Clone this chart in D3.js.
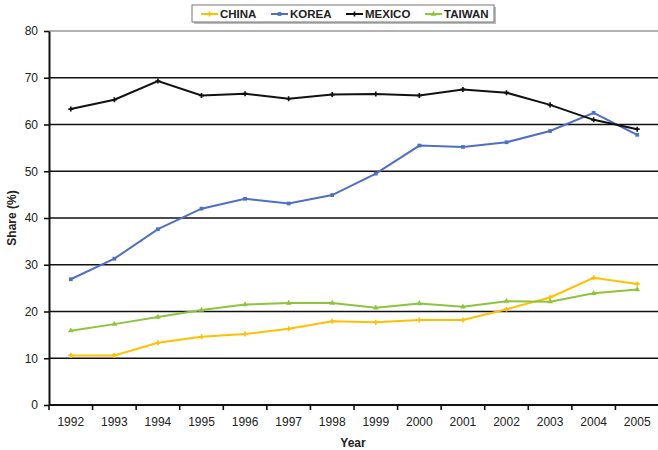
<!DOCTYPE html>
<html>
<head>
  <script src="https://d3js.org/d3.v7.min.js"></script>
  <style>
    body { margin: 0; background: #fff; }
    svg { font-family: "Liberation Sans", Arial, sans-serif; }
    .tick-label { font-size: 12px; fill: #222; }
    .axis-title { font-size: 12px; font-weight: bold; fill: #222; }
    .legend-text { font-size: 11.5px; font-weight: bold; fill: #222; }
  </style>
</head>
<body>
<div id="chart"></div>
<script>
  // data
  const years = [1992, 1993, 1994, 1995, 1996, 1997, 1998, 1999, 2000, 2001, 2002, 2003, 2004, 2005];
  const china  = [10.6, 10.6, 13.3, 14.6, 15.2, 16.3, 17.9, 17.7, 18.2, 18.2, 20.5, 23.0, 27.2, 25.9];
  const korea  = [26.9, 31.3, 37.6, 42.0, 44.1, 43.1, 44.9, 49.5, 55.5, 55.2, 56.2, 58.6, 62.5, 57.8];
  const mexico = [63.3, 65.3, 69.3, 66.2, 66.6, 65.5, 66.4, 66.5, 66.2, 67.5, 66.8, 64.2, 61.0, 59.0];
  const taiwan = [15.9, 17.3, 18.8, 20.3, 21.5, 21.8, 21.8, 20.8, 21.7, 21.0, 22.2, 22.1, 23.9, 24.7];
  const yTicks = [0, 10, 20, 30, 40, 50, 60, 70, 80];

  const series = [
    { name: "CHINA", values: china, color: "#ffc000", symbol: d3.symbolCross },
    { name: "KOREA", values: korea, color: "#4f6fc4", symbol: d3.symbolSquare },
    { name: "MEXICO", values: mexico, color: "#111111", symbol: d3.symbolCross },
    { name: "TAIWAN", values: taiwan, color: "#8cc43c", symbol: d3.symbolTriangle }
  ];

  const W = 658, H = 450;
  const plotL = 49, plotR = 659, plotT = 31, plotB = 405;

  const svg = d3.select("#chart").append("svg")
    .attr("width", W).attr("height", H);

  const x = d3.scaleBand().domain(years).range([plotL, plotR]);
  const y = d3.scaleLinear().domain([0, 80]).range([plotB, plotT]);
  const cx = d => x(d) + x.bandwidth() / 2;

  // gridlines
  svg.append("g").selectAll("line")
    .data(yTicks.filter(t => t > 0))
    .enter().append("line")
    .attr("x1", plotL).attr("x2", W)
    .attr("y1", d => y(d)).attr("y2", d => y(d))
    .attr("stroke", d => d === 80 ? "#999" : "#111")
    .attr("stroke-width", 1.6);

  // y axis
  const yAxis = svg.append("g")
    .attr("transform", `translate(${plotL},0)`)
    .call(d3.axisLeft(y).tickValues(yTicks).tickSize(5).tickPadding(6).tickSizeOuter(0));
  yAxis.select(".domain").attr("stroke", "#111").attr("stroke-width", 2);
  yAxis.selectAll(".tick line").attr("stroke", "#111").attr("stroke-width", 1.6);
  yAxis.selectAll(".tick text").attr("class", "tick-label").style("font-size", "12px").attr("font-family", null);

  // x axis line and boundary ticks
  svg.append("line")
    .attr("x1", plotL).attr("x2", W)
    .attr("y1", plotB).attr("y2", plotB)
    .attr("stroke", "#111").attr("stroke-width", 2);
  svg.append("g").selectAll("line")
    .data(years)
    .enter().append("line")
    .attr("x1", d => x(d)).attr("x2", d => x(d))
    .attr("y1", plotB).attr("y2", plotB + 5)
    .attr("stroke", "#111").attr("stroke-width", 1.6);

  const xAxis = svg.append("g")
    .attr("transform", `translate(0,${plotB})`)
    .call(d3.axisBottom(x).tickSize(0).tickPadding(12));
  xAxis.select(".domain").remove();
  xAxis.selectAll(".tick text").attr("class", "tick-label").style("font-size", "12px").attr("font-family", null);

  // axis titles
  svg.append("text")
    .attr("class", "axis-title")
    .attr("text-anchor", "middle")
    .attr("x", 353).attr("y", 447)
    .text("Year");

  svg.append("text")
    .attr("class", "axis-title")
    .attr("text-anchor", "middle")
    .attr("transform", `translate(16,${(plotT + plotB) / 2}) rotate(-90)`)
    .text("Share (%)");

  // lines
  const line = d3.line()
    .x((d, i) => cx(years[i]))
    .y(d => y(d));

  series.forEach(s => {
    const g = svg.append("g");
    g.append("path")
      .datum(s.values)
      .attr("fill", "none")
      .attr("stroke", s.color)
      .attr("stroke-width", 2)
      .attr("d", line);
    g.selectAll("path.m")
      .data(s.values)
      .enter().append("path")
      .attr("class", "m")
      .attr("transform", (d, i) => `translate(${cx(years[i])},${y(d)})`)
      .attr("d", d3.symbol().type(s.symbol).size(14))
      .attr("fill", s.color);
  });

  // legend
  const legend = svg.append("g");
  legend.append("rect")
    .attr("x", 194).attr("y", 7).attr("width", 302).attr("height", 17)
    .attr("fill", "#bbb");
  legend.append("rect")
    .attr("x", 192).attr("y", 5).attr("width", 302).attr("height", 17)
    .attr("fill", "#fff").attr("stroke", "#777").attr("stroke-width", 1);

  const legendX = [201, 271, 346, 425];
  const items = legend.selectAll("g.item")
    .data(series)
    .enter().append("g")
    .attr("class", "item")
    .attr("transform", (d, i) => `translate(${legendX[i]},14)`);
  items.append("line")
    .attr("x1", 0).attr("x2", 17)
    .attr("stroke", d => d.color).attr("stroke-width", 2);
  items.append("path")
    .attr("transform", "translate(8.5,0)")
    .attr("d", d => d3.symbol().type(d.symbol).size(14)())
    .attr("fill", d => d.color);
  items.append("text")
    .attr("class", "legend-text")
    .attr("x", 19).attr("y", 4)
    .text(d => d.name);
</script>
</body>
</html>
